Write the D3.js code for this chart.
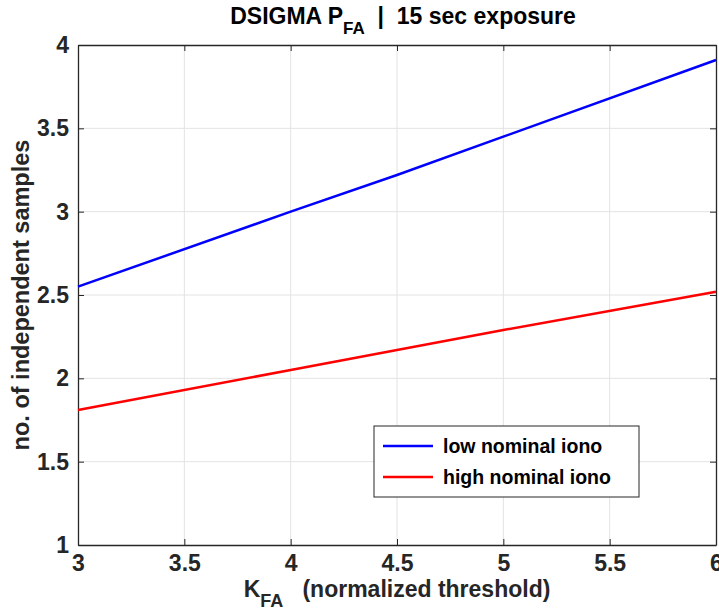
<!DOCTYPE html>
<meta charset="utf-8">
<style>
  body { margin: 0; background: #fff; }
  text { font-family: "Liberation Sans", Arial, sans-serif; font-weight: bold; fill: #262626; white-space: pre; }
</style>
<body>
<script src="https://d3js.org/d3.v7.min.js"></script>
<script>

var width = 719,
    height = 613,
    margin = {top: 45, right: 3, bottom: 68, left: 78};

// data
var kfa = [3, 4, 4.5, 5, 6];
var lowIono = [2.55, 3.00, 3.22, 3.45, 3.91];
var highIono = [1.81, 2.05, 2.17, 2.29, 2.52];
var seriesNames = ["low nominal iono", "high nominal iono"];
var seriesColors = ["#0000ff", "#ff0000"];
var xTicks = [3, 3.5, 4, 4.5, 5, 5.5, 6];
var yTicks = [1, 1.5, 2, 2.5, 3, 3.5, 4];

var iw = width - margin.left - margin.right,
    ih = height - margin.top - margin.bottom;

var x = d3.scaleLinear().domain([3, 6]).range([0, iw]);
var y = d3.scaleLinear().domain([1, 4]).range([ih, 0]);

var svg = d3.select("body").append("svg")
    .attr("width", width)
    .attr("height", height);

var g = svg.append("g")
    .attr("transform", "translate(" + margin.left + "," + margin.top + ")");

// grid
g.append("g").selectAll("line").data(xTicks.slice(1, -1)).enter().append("line")
    .attr("x1", x).attr("x2", x).attr("y1", 0).attr("y2", ih)
    .attr("stroke", "#e3e3e3");
g.append("g").selectAll("line").data(yTicks.slice(1, -1)).enter().append("line")
    .attr("y1", y).attr("y2", y).attr("x1", 0).attr("x2", iw)
    .attr("stroke", "#e3e3e3");

// axes, ticks inside like matlab
var fmt = function(d) { return d3.format("")(d); };
g.append("g").attr("transform", "translate(0," + ih + ")")
    .call(d3.axisBottom(x).tickValues(xTicks).tickSizeInner(-6).tickSizeOuter(0).tickPadding(10).tickFormat(fmt));
g.append("g")
    .call(d3.axisTop(x).tickValues(xTicks).tickSizeInner(-6).tickSizeOuter(0).tickFormat(""));
g.append("g")
    .call(d3.axisLeft(y).tickValues(yTicks).tickSizeInner(-6).tickSizeOuter(0).tickPadding(9).tickFormat(fmt));
g.append("g").attr("transform", "translate(" + iw + ",0)")
    .call(d3.axisRight(y).tickValues(yTicks).tickSizeInner(-6).tickSizeOuter(0).tickFormat(""));

g.selectAll(".domain, .tick line").attr("stroke", "#262626");
g.selectAll(".domain").attr("stroke-width", 1.3);
g.selectAll(".tick text").style("font-size", "23px").attr("fill", "#262626")
    .style("font-family", '"Liberation Sans", Arial, sans-serif');

// lines
var line = d3.line()
    .x(function(d) { return x(d[0]); })
    .y(function(d) { return y(d[1]); });

[lowIono, highIono].forEach(function(s, i) {
  g.append("path")
    .datum(d3.zip(kfa, s))
    .attr("fill", "none")
    .attr("stroke", seriesColors[i])
    .attr("stroke-width", 2.5)
    .attr("d", line);
});

// legend
var lg = svg.append("g").attr("transform", "translate(374,426)");
lg.append("rect").attr("width", 265).attr("height", 71)
    .attr("fill", "#fff").attr("stroke", "#262626").attr("stroke-width", 1);
seriesNames.forEach(function(n, i) {
  var yy = 20 + i * 31;
  lg.append("line").attr("x1", 9).attr("x2", 59).attr("y1", yy).attr("y2", yy)
      .attr("stroke", seriesColors[i]).attr("stroke-width", 2.5);
  lg.append("text").attr("x", 69).attr("y", yy + 7).style("font-size", "19.5px")
      .style("fill", "#000").text(n);
});

// title
var title = svg.append("text").attr("x", 403).attr("y", 24)
    .attr("text-anchor", "middle").style("font-size", "23px").style("fill", "#000");
title.append("tspan").text("DSIGMA P");
title.append("tspan").attr("dy", 10).style("font-size", "17px").text("FA");
title.append("tspan").attr("dy", -10).text("  |  15 sec exposure");

// x label
var xlab = svg.append("text").attr("x", 397).attr("y", 597)
    .attr("text-anchor", "middle").style("font-size", "23px");
xlab.append("tspan").text("K");
xlab.append("tspan").attr("dy", 10).style("font-size", "18px").text("FA");
xlab.append("tspan").attr("dy", -10).text("   (normalized threshold)");

// y label
svg.append("text")
    .attr("transform", "translate(29," + (margin.top + ih / 2) + ") rotate(-90)")
    .attr("text-anchor", "middle").style("font-size", "23.5px")
    .text("no. of independent samples");

</script>
</body>
</html>
